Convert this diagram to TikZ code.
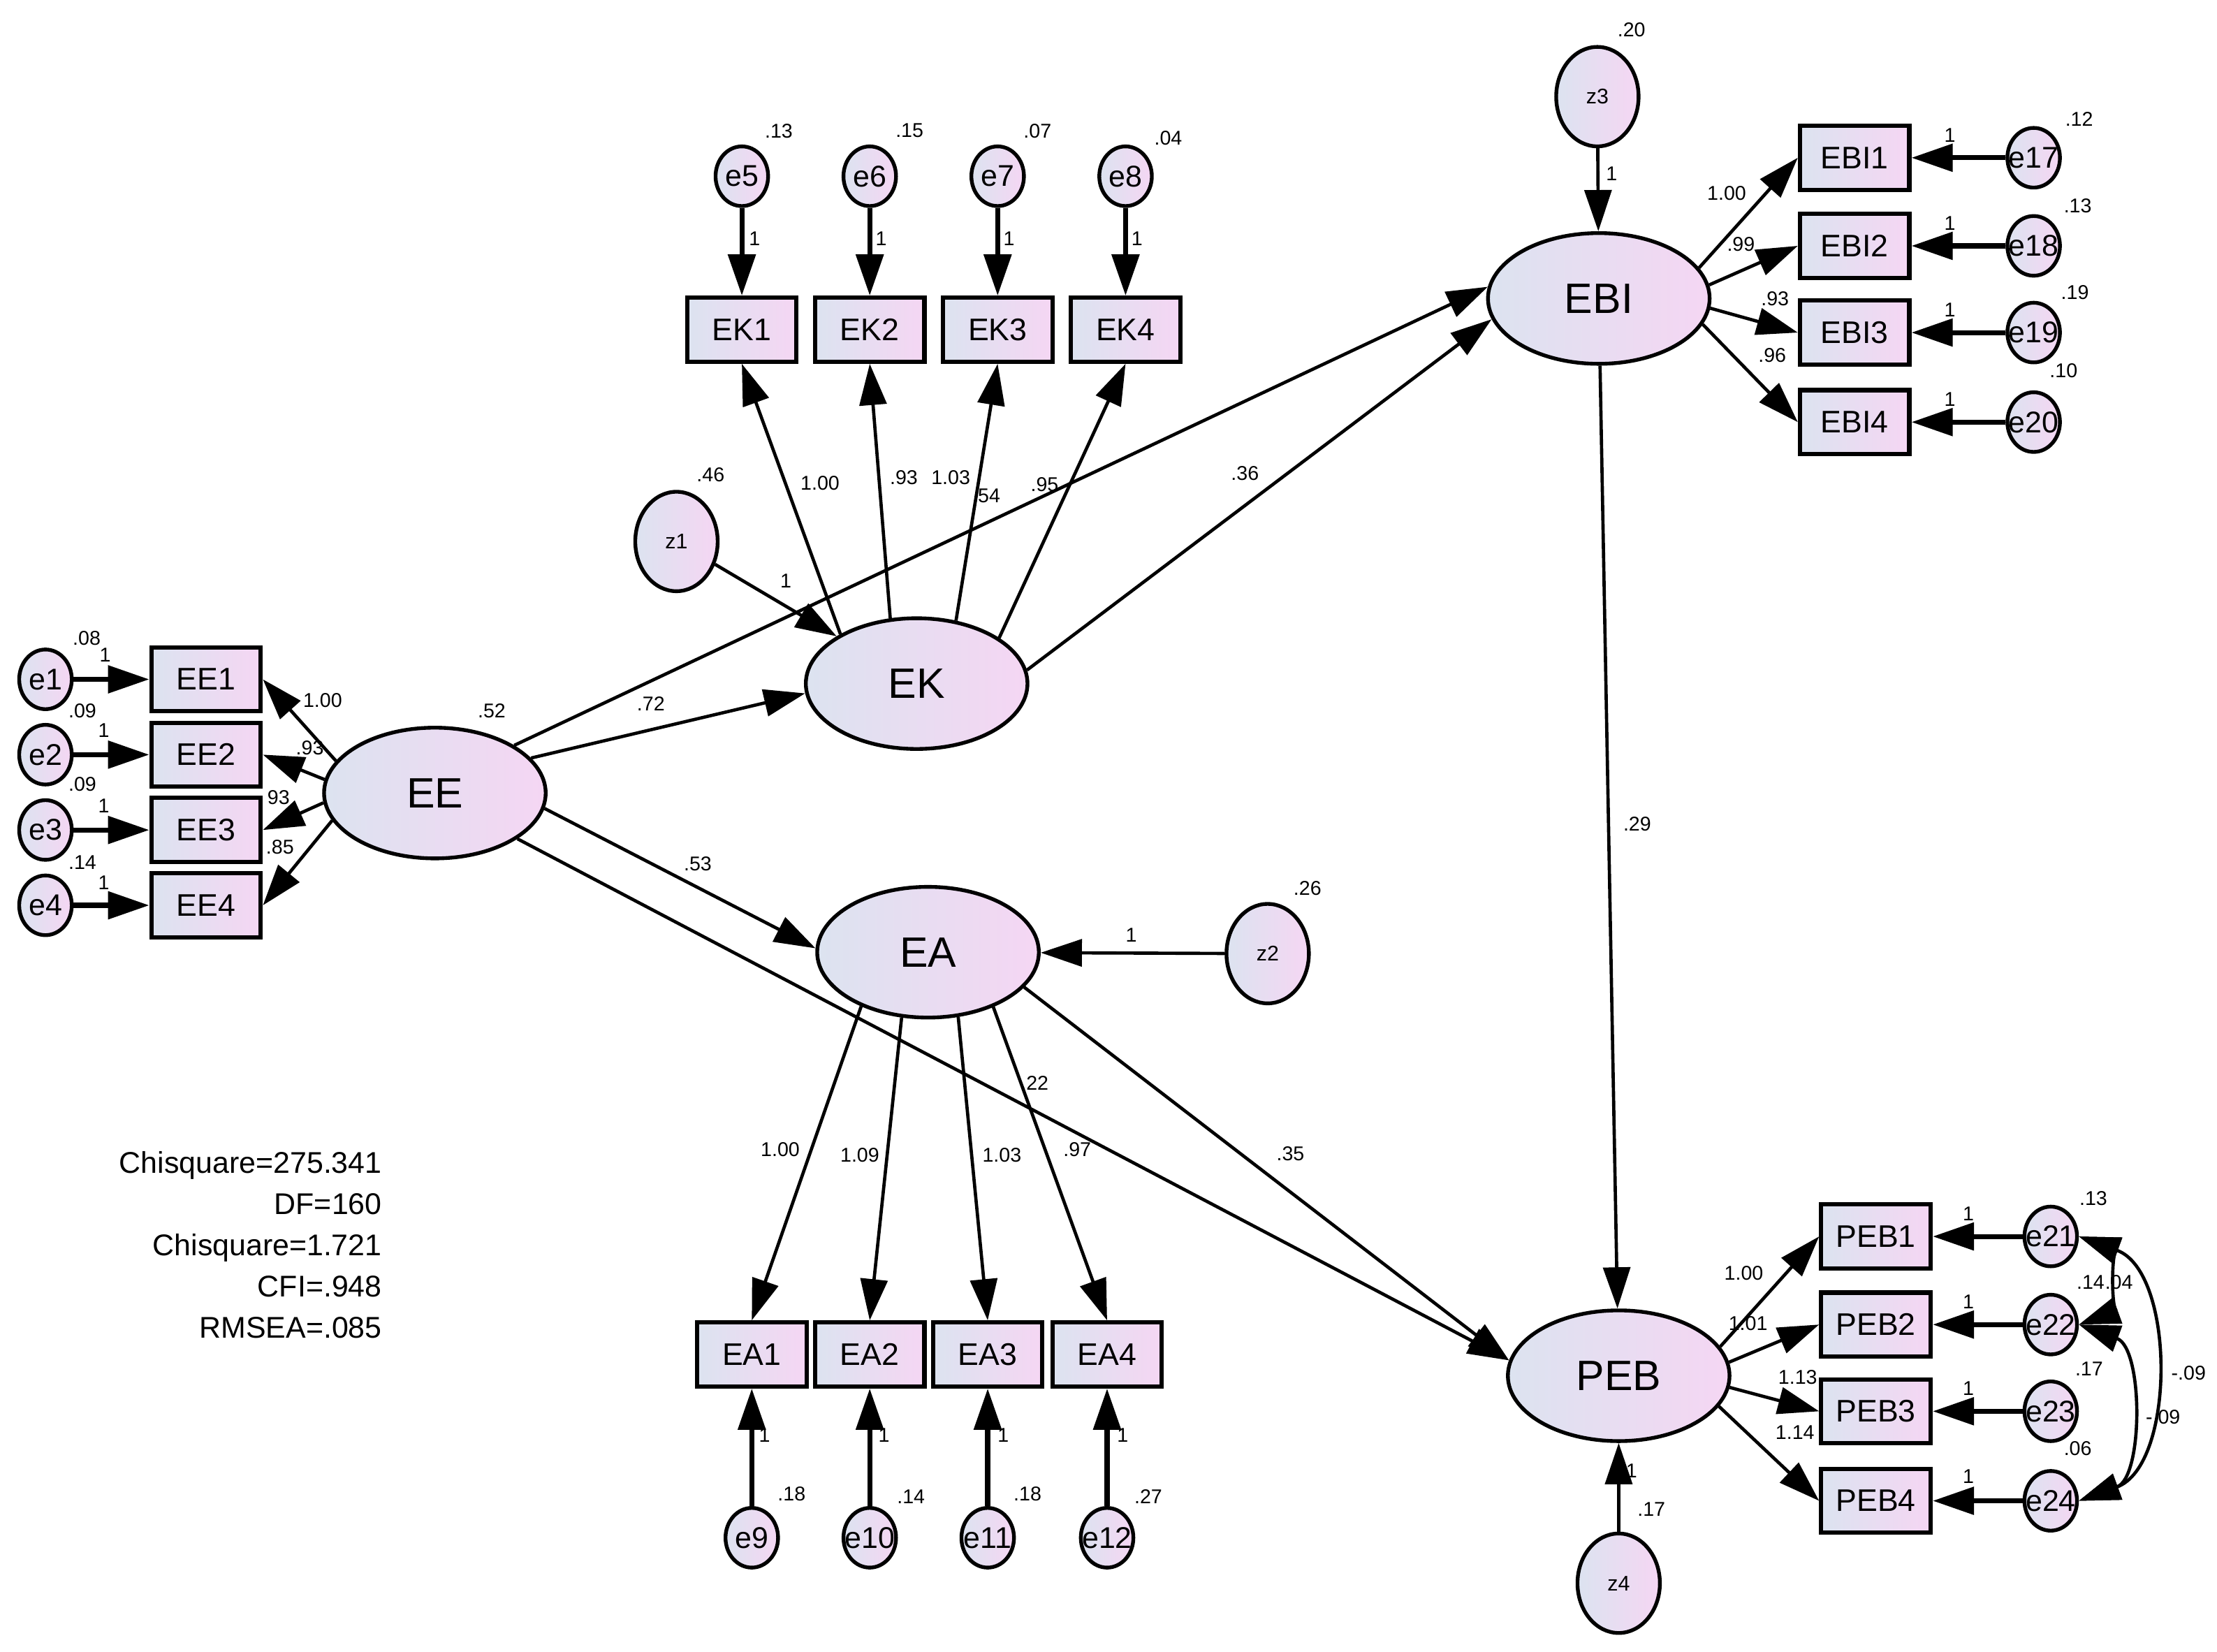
\documentclass[tikz,border=0pt]{standalone}
\usepackage{fontspec}
\setmainfont{Liberation Sans}
\usetikzlibrary{shapes.geometric,arrows.meta}
\definecolor{cL}{RGB}{220,227,240}
\definecolor{cR}{RGB}{245,214,243}
\newcommand{\zt}[1]{\makebox[0pt]{#1}}
\begin{document}
\begin{tikzpicture}[x=0.02cm,y=-0.02cm,
  lat/.style={ellipse,draw,line width=1.5pt,left color=cL,right color=cR,minimum width=3.12cm,minimum height=1.84cm,inner sep=0pt,font=\fontsize{17}{17}\selectfont},
  obs/.style={rectangle,draw,line width=1.7pt,left color=cL,right color=cR,minimum width=1.54cm,minimum height=0.9cm,inner sep=0pt,font=\fontsize{12.5}{12.5}\selectfont},
  err/.style={ellipse,draw,line width=1.5pt,left color=cL,right color=cR,minimum width=0.74cm,minimum height=0.84cm,inner sep=0pt,font=\fontsize{12}{12}\selectfont},
  dis/.style={ellipse,draw,line width=1.5pt,left color=cL,right color=cR,minimum width=1.16cm,minimum height=1.4cm,inner sep=0pt,font=\fontsize{8.5}{8.5}\selectfont},
  lab/.style={inner sep=0pt,font=\fontsize{8}{8}\selectfont},
  reg/.style={-{Triangle[length=0.58cm,width=0.38cm]},line width=1.3pt},
  fix/.style={-{Triangle[length=0.58cm,width=0.38cm]},line width=2pt},
  cov/.style={{Triangle[length=0.58cm,width=0.38cm]}-{Triangle[length=0.58cm,width=0.38cm]},line width=1.3pt},
]
\useasboundingbox[fill=white] (0,0) rectangle (1560,1162);

% latent variables
\node[lat] (EE) at (306,558) {\zt{EE}};
\node[lat] (EK) at (645,481) {\zt{EK}};
\node[lat] (EA) at (653,670) {\zt{EA}};
\node[lat] (EBI) at (1125,210) {\zt{EBI}};
\node[lat] (PEB) at (1139,968) {\zt{PEB}};

% disturbances
\node[dis] (z1) at (476,381) {\zt{z1}};
\node[dis] (z2) at (892,671) {\zt{z2}};
\node[dis] (z3) at (1124,68) {\zt{z3}};
\node[dis] (z4) at (1139,1114) {\zt{z4}};

% EE indicators
\foreach \i/\y in {1/478,2/531,3/584,4/637}{
  \node[obs] (EE\i) at (145,\y) {EE\i};
  \node[err] (e\i) at (32,\y) {\zt{e\i}};
  \draw[fix] (e\i) -- (EE\i);
}
% EK indicators
\foreach \i/\x/\e in {1/522/5,2/612/6,3/702/7,4/792/8}{
  \node[obs] (EK\i) at (\x,232) {EK\i};
  \node[err] (e\e) at (\x,124) {\zt{e\e}};
  \draw[fix] (e\e) -- (EK\i);
}
% EA indicators
\foreach \i/\x/\e in {1/529/9,2/612/10,3/695/11,4/779/12}{
  \node[obs] (EA\i) at (\x,953) {EA\i};
  \node[err] (e\e) at (\x,1082) {\zt{e\e}};
  \draw[fix] (e\e) -- (EA\i);
}
% EBI indicators
\foreach \i/\y/\e in {1/111/17,2/173/18,3/234/19,4/297/20}{
  \node[obs] (EBI\i) at (1305,\y) {EBI\i};
  \node[err] (e\e) at (1431,\y) {\zt{e\e}};
  \draw[fix] (e\e) -- (EBI\i);
}
% PEB indicators
\foreach \i/\y/\e in {1/870/21,2/932/22,3/993/23,4/1056/24}{
  \node[obs] (PEB\i) at (1320,\y) {PEB\i};
  \node[err] (e\e) at (1443,\y) {\zt{e\e}};
  \draw[fix] (e\e) -- (PEB\i);
}

% loadings
\draw[reg] (EE.162) -- (EE1.east);
\draw[reg] (EE.173) -- (EE2.east);
\draw[reg] (EE.185) -- (EE3.east);
\draw[reg] (EE.195) -- (EE4.east);
\draw[reg] (EK.147) -- (EK1.south);
\draw[reg] (EK.112) -- (EK2.south);
\draw[reg] (EK.58) -- (EK3.south);
\draw[reg] (EK.29) -- (EK4.south);
\draw[reg] (EA.219) -- (EA1.north);
\draw[reg] (EA.248) -- (EA2.north);
\draw[reg] (EA.295) -- (EA3.north);
\draw[reg] (EA.320) -- (EA4.north);
\draw[reg] (EBI.17) -- (EBI1.west);
\draw[reg] (EBI.7) -- (EBI2.west);
\draw[reg] (EBI.-5) -- (EBI3.west);
\draw[reg] (EBI.-14) -- (EBI4.west);
\draw[reg] (PEB.16) -- (PEB1.west);
\draw[reg] (PEB.7) -- (PEB2.west);
\draw[reg] (PEB.-6) -- (PEB3.west);
\draw[reg] (PEB.-17) -- (PEB4.west);

% structural paths
\draw[reg] (EE.31) -- (EBI.174);
\draw[reg] (EE.20) -- (EK.185);
\draw[reg] (EK.7) -- (EBI.191);
\draw[reg] (EE.-8) -- (EA.178);
\draw[reg] (EE.-29) -- (PEB.172);
\draw[reg] (EA.-20) -- (PEB.172);
\draw[reg] (EBI) -- (PEB);
\draw[reg] (z1) -- (EK);
\draw[reg] (z2) -- (EA);
\draw[reg] (z3) -- (EBI);
\draw[reg] (z4) -- (PEB);

% covariances
\draw[cov] (e21.east) to[out=-20,in=20,looseness=1.0] (e22.east);
\draw[cov] (e22.east) to[out=-20,in=20,looseness=1.0] (e24.east);
\draw[cov] (e21.east) to[out=-20,in=20,looseness=1.0] (e24.east);

% labels: EE block
\node[lab] (l1) at (61,449) {.08};
\node[lab] (l2) at (74,461) {1};
\node[lab] (l3) at (58,500) {.09};
\node[lab] (l4) at (73,514) {1};
\node[lab] (l5) at (58,552) {.09};
\node[lab] (l6) at (73,567) {1};
\node[lab] (l7) at (58,607) {.14};
\node[lab] (l8) at (73,621) {1};
\node[lab] (l9) at (227,493) {1.00};
\node[lab] (l10) at (218,526) {.93};
\node[lab] (l11) at (196,561) {93};
\node[lab] (l12) at (197,596) {.85};
\node[lab] (l13) at (346,500) {.52};
\node[lab] (l14) at (458,495) {.72};
\node[lab] (l15) at (491,608) {.53};
% EK block
\node[lab] (l16) at (500,334) {.46};
\node[lab] (l17) at (553,409) {1};
\node[lab] (l18) at (577,340) {1.00};
\node[lab] (l19) at (636,336) {.93};
\node[lab] (l20) at (669,336) {1.03};
\node[lab] (l21) at (694,349) {.54};
\node[lab] (l22) at (735,341) {.95};
\node[lab] (l23) at (876,333) {.36};
\node[lab] (l24) at (548,92) {.13};
\node[lab] (l25) at (640,92) {.15};
\node[lab] (l26) at (730,92) {.07};
\node[lab] (l27) at (822,97) {.04};
\node[lab] (l28) at (531,168) {1};
\node[lab] (l29) at (620,168) {1};
\node[lab] (l30) at (710,168) {1};
\node[lab] (l31) at (800,168) {1};
% EBI block
\node[lab] (l32) at (1148,21) {.20};
\node[lab] (l33) at (1134,122) {1};
\node[lab] (l34) at (1215,136) {1.00};
\node[lab] (l35) at (1225,172) {.99};
\node[lab] (l36) at (1249,210) {.93};
\node[lab] (l37) at (1247,250) {.96};
\node[lab] (l38) at (1463,84) {.12};
\node[lab] (l39) at (1462,145) {.13};
\node[lab] (l40) at (1460,206) {.19};
\node[lab] (l41) at (1452,261) {.10};
\node[lab] (l42) at (1372,95) {1};
\node[lab] (l43) at (1372,157) {1};
\node[lab] (l44) at (1372,218) {1};
\node[lab] (l45) at (1372,281) {1};
\node[lab] (l46) at (1152,580) {.29};
% EA block
\node[lab] (l47) at (920,625) {.26};
\node[lab] (l48) at (796,658) {1};
\node[lab] (l49) at (728,762) {.22};
\node[lab] (l50) at (908,812) {.35};
\node[lab] (l51) at (549,809) {1.00};
\node[lab] (l52) at (605,813) {1.09};
\node[lab] (l53) at (705,813) {1.03};
\node[lab] (l54) at (758,809) {.97};
\node[lab] (l55) at (557,1051) {.18};
\node[lab] (l56) at (641,1053) {.14};
\node[lab] (l57) at (723,1051) {.18};
\node[lab] (l58) at (808,1053) {.27};
\node[lab] (l59) at (538,1010) {1};
\node[lab] (l60) at (622,1010) {1};
\node[lab] (l61) at (706,1010) {1};
\node[lab] (l62) at (790,1010) {1};
% PEB block
\node[lab] (l63) at (1227,896) {1.00};
\node[lab] (l64) at (1230,931) {1.01};
\node[lab] (l65) at (1265,969) {1.13};
\node[lab] (l66) at (1263,1008) {1.14};
\node[lab] (l67) at (1473,843) {.13};
\node[lab] (l68) at (1471,902) {.14};
\node[lab] (l69) at (1491,902) {.04};
\node[lab] (l70) at (1470,963) {.17};
\node[lab] (l71) at (1462,1019) {.06};
\node[lab] (l72) at (1540,966) {-.09};
\node[lab] (l73) at (1522,997) {-.09};
\node[lab] (l74) at (1385,854) {1};
\node[lab] (l75) at (1385,916) {1};
\node[lab] (l76) at (1385,977) {1};
\node[lab] (l77) at (1385,1039) {1};
\node[lab] (l78) at (1162,1062) {.17};
\node[lab] (l79) at (1148,1035) {1};

% fit statistics
\node[anchor=east,align=right,inner sep=0pt,font=\fontsize{12}{16.5}\selectfont] (fit) at (269,876)
  {Chisquare=275.341\\DF=160\\Chisquare=1.721\\CFI=.948\\RMSEA=.085};
\end{tikzpicture}
\end{document}
